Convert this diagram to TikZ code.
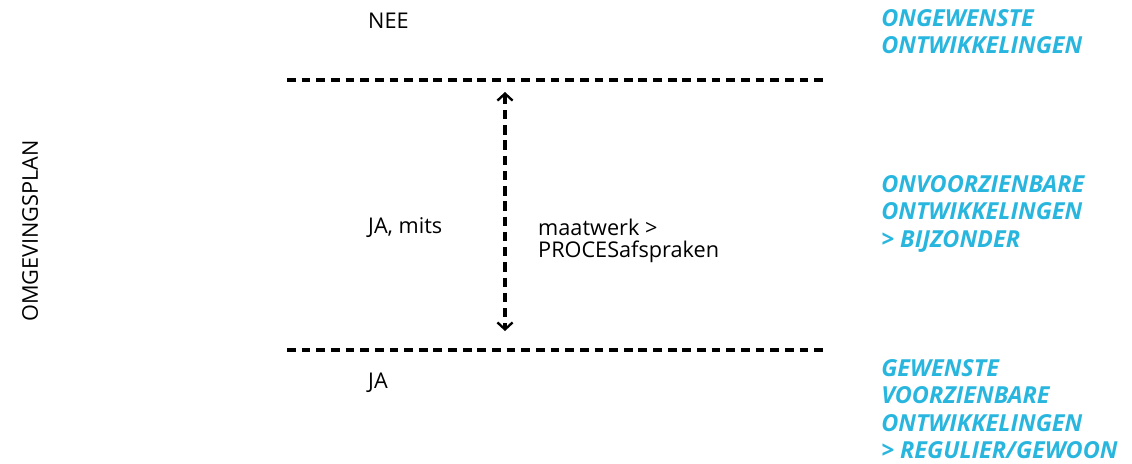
\documentclass[tikz,border=0pt]{standalone}
\usepackage{fontspec}
\setmainfont{Open Sans}
\usepackage{tikz}
\usetikzlibrary{arrows.meta,positioning}
\definecolor{planblue}{RGB}{41,182,222}

\begin{document}
\begin{tikzpicture}[x=0.03cm, y=-0.03cm,
	label/.style={font=\fontsize{18.5}{18.8}\selectfont, anchor=west, inner sep=0pt},
	cat/.style={font=\fontsize{20}{23.5}\selectfont\bfseries\itshape, text=planblue, anchor=north west, align=left, inner sep=0pt},
	border/.style={line width=2.6pt, dash pattern=on 7.5pt off 5pt}]

	\useasboundingbox (0,0) rectangle (1132,463);

	% Side
	\node[rotate=90, font=\fontsize{18.5}{20}\selectfont, inner sep=0pt] (plan) at (30,231) {OMGEVINGSPLAN};

	% Borders
	\coordinate (topl) at (287,80);
	\coordinate (topr) at (828,80);
	\coordinate (botl) at (287,350);
	\coordinate (botr) at (828,350);
	\draw[border] (topl) -- (topr);
	\draw[border] (botl) -- (botr);

	% Answers
	\node[label] (nee) at (368,21) {NEE};
	\node[label] (jamits) at (368,228) {JA, mits};
	\node[label] (ja) at (368,383) {JA};
	\node[label, align=left] (maatwerk) at (538,241) {maatwerk >\\PROCESafspraken};

	% Range
	\coordinate (up) at (505,92);
	\coordinate (down) at (505,331);
	\draw[line width=2.6pt, dash pattern=on 8pt off 5pt, {Straight Barb[length=6pt,width=13pt,line width=2pt]}-{Straight Barb[length=6pt,width=13pt,line width=2pt]}] (up) -- (down);

	% Categories
	\node[cat] (ongewenst) at (881,9) {ONGEWENSTE\\ONTWIKKELINGEN};
	\node[cat] (onvoorzien) at (881,175) {ONVOORZIENBARE\\ONTWIKKELINGEN\\> BIJZONDER};
	\node[cat] (gewenst) at (881,359) {GEWENSTE\\VOORZIENBARE\\ONTWIKKELINGEN\\> REGULIER/GEWOON};
\end{tikzpicture}
\end{document}
